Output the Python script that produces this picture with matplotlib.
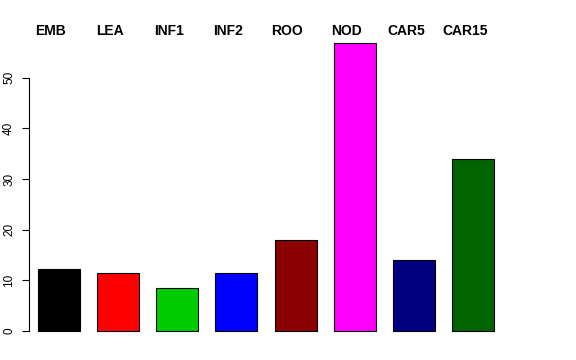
import matplotlib
matplotlib.use("Agg")
import matplotlib.pyplot as plt
import numpy as np

labels = ["EMB", "LEA", "INF1", "INF2", "ROO", "NOD", "CAR5", "CAR15"]
values = [12.2, 11.4, 8.4, 11.4, 18.0, 56.8, 14.1, 33.9]
colors = ["#000000", "#FF0000", "#00CD00", "#0000FF", "#8B0000",
          "#FF00FF", "#000080", "#006400"]
yticks = [0, 10, 20, 30, 40, 50]

plt.rcParams['font.family'] = ['Liberation Sans', 'DejaVu Sans']

fig = plt.figure(figsize=(5.76, 3.6), dpi=100)
ax = fig.add_axes([29/576, 17.5/360, 517/576, 310.8/360])

x = np.arange(len(labels))
ax.bar(x, values, width=0.71, color=colors, edgecolor="black", linewidth=0.8)

ax.set_xlim(-0.5, 8.225)
ax.set_ylim(-0.04*max(values), 1.04*max(values))

# y axis like R: only spans the ticks
for s in ["top", "right", "bottom"]:
    ax.spines[s].set_visible(False)
ax.spines["left"].set_bounds(0, 50)
ax.spines["left"].set_linewidth(0.8)
ax.set_yticks(yticks)
ax.set_yticklabels([str(t) for t in yticks], rotation=90, va="center", fontsize=8.5)
ax.tick_params(axis="y", length=5, width=0.8, pad=5)
ax.set_xticks([])

# group names across the top (sit a little left of the bar centres)
for i, lab in enumerate(labels):
    ax.text(i - 0.14, 1.002, lab, transform=ax.get_xaxis_transform(),
            ha="center", va="center", fontsize=10, fontweight="bold")

fig.savefig("out.png", dpi=100)
